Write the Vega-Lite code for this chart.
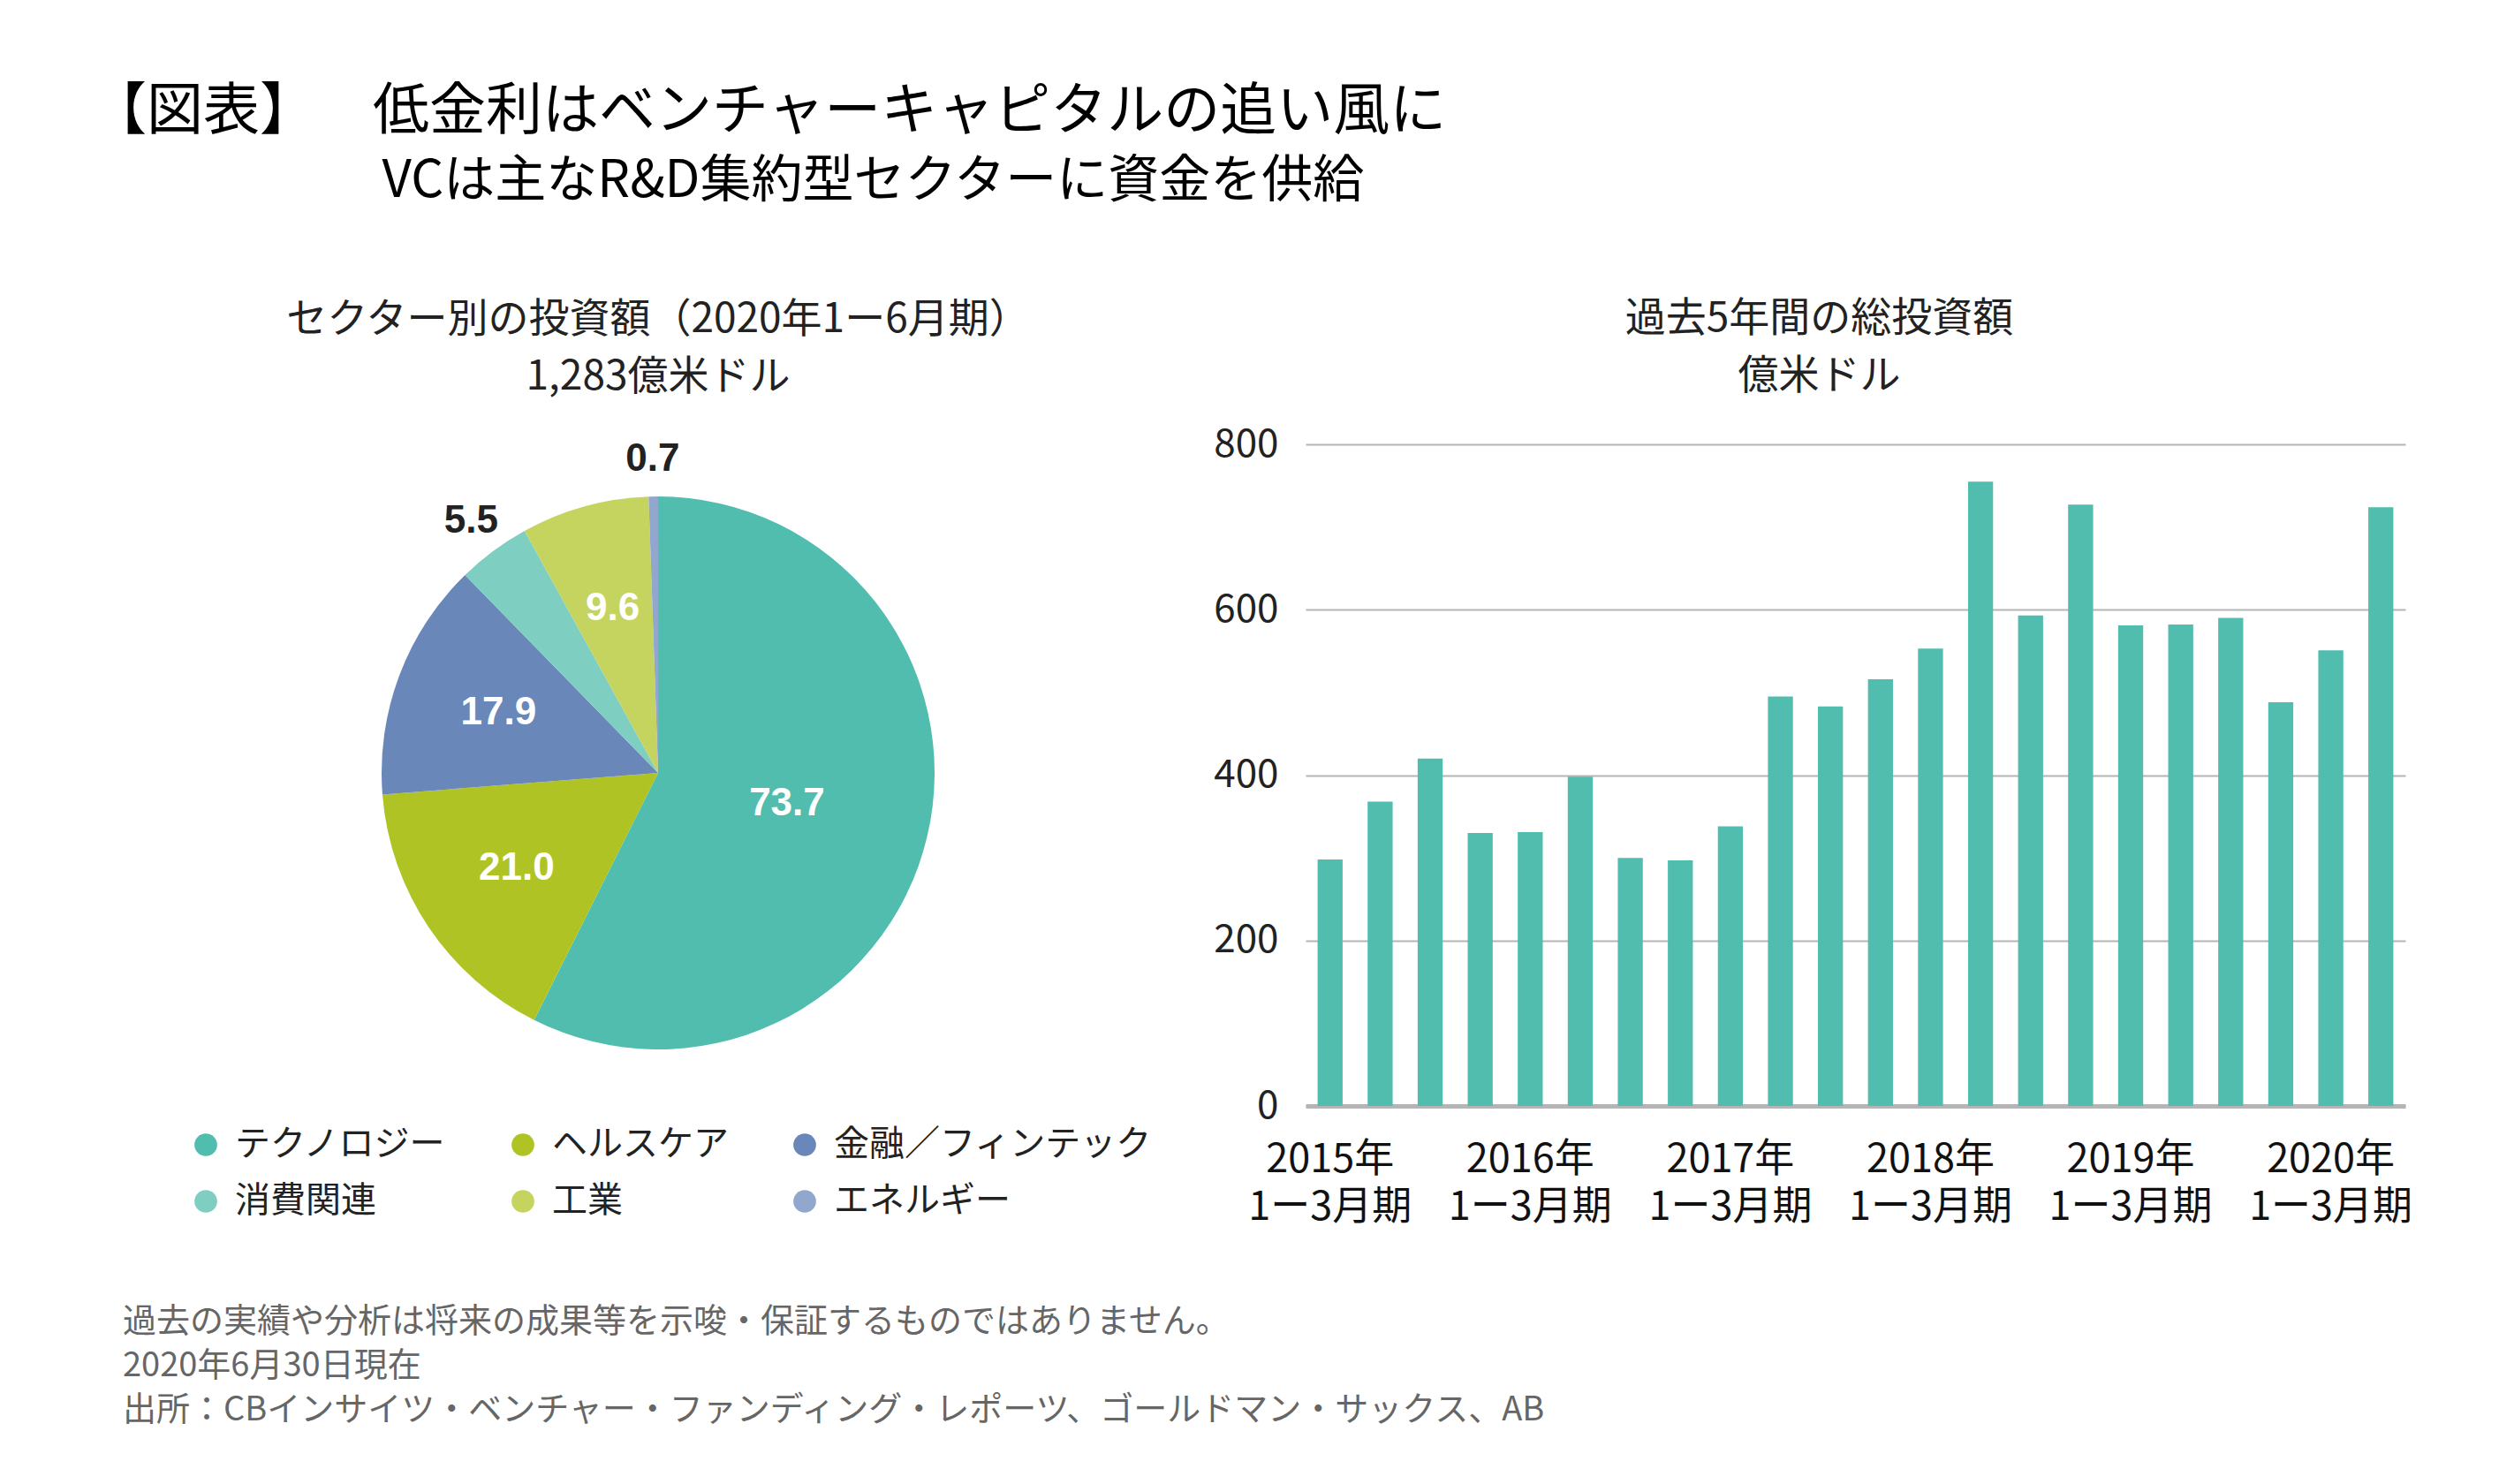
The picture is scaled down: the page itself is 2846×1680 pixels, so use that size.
{
  "$schema": "https://vega.github.io/schema/vega-lite/v6.json",
  "background": "white",
  "padding": {"left": 102, "top": 95, "right": 20, "bottom": 20},
  "config": {
    "view": {"stroke": null},
    "font": "Noto Sans CJK JP",
    "title": {"font": "Noto Sans CJK JP", "fontWeight": "normal", "subtitleFont": "Noto Sans CJK JP"}
  },
  "title": {
    "text": "【図表】\u3000\u2002低金利はベンチャーキャピタルの追い風に",
    "subtitle": "\u200b\u3000\u3000\u3000\u3000\u3000\u2002\u2009VCは主なR&D集約型セクターに資金を供給",
    "anchor": "start",
    "fontSize": 64,
    "subtitleFontSize": 58,
    "subtitlePadding": 18,
    "color": "#000000",
    "subtitleColor": "#000000",
    "dx": -37,
    "offset": 103
  },
  "datasets": {
    "sectors": [
      {"sector": "テクノロジー", "value": 73.7, "rank": 1},
      {"sector": "ヘルスケア", "value": 21.0, "rank": 2},
      {"sector": "金融／フィンテック", "value": 17.9, "rank": 3},
      {"sector": "消費関連", "value": 5.5, "rank": 4},
      {"sector": "工業", "value": 9.6, "rank": 5},
      {"sector": "エネルギー", "value": 0.7, "rank": 6}
    ],
    "vc": [
      {"q": "2015Q1", "v": 298}, {"q": "2015Q2", "v": 368}, {"q": "2015Q3", "v": 420}, {"q": "2015Q4", "v": 330},
      {"q": "2016Q1", "v": 331}, {"q": "2016Q2", "v": 398}, {"q": "2016Q3", "v": 300}, {"q": "2016Q4", "v": 297},
      {"q": "2017Q1", "v": 338}, {"q": "2017Q2", "v": 495}, {"q": "2017Q3", "v": 483}, {"q": "2017Q4", "v": 516},
      {"q": "2018Q1", "v": 553}, {"q": "2018Q2", "v": 755}, {"q": "2018Q3", "v": 593}, {"q": "2018Q4", "v": 727},
      {"q": "2019Q1", "v": 581}, {"q": "2019Q2", "v": 582}, {"q": "2019Q3", "v": 590}, {"q": "2019Q4", "v": 488},
      {"q": "2020Q1", "v": 551}, {"q": "2020Q2", "v": 724}
    ]
  },
  "vconcat": [
    {
      "title": {
        "text": ["過去の実績や分析は将来の成果等を示唆・保証するものではありません。", "2020年6月30日現在", "出所：CBインサイツ・ベンチャー・ファンディング・レポーツ、ゴールドマン・サックス、AB"],
        "orient": "bottom",
        "anchor": "start",
        "fontSize": 38,
        "lineHeight": 50,
        "color": "#666666",
        "dx": -74,
        "offset": 89
      },
      "spacing": 69,
      "resolve": {"legend": {"color": "independent"}, "scale": {"color": "independent"}},
      "hconcat": [
        {
          "width": 1064,
          "height": 744,
          "title": {
            "text": ["セクター別の投資額（2020年1ー6月期）", "1,283億米ドル"],
            "fontSize": 46,
            "lineHeight": 65,
            "color": "#222222",
            "offset": 47
          },
          "data": {"name": "sectors"},
          "encoding": {
            "theta": {"field": "value", "type": "quantitative", "stack": true},
            "order": {"field": "rank", "type": "quantitative"},
            "detail": {"field": "sector", "type": "nominal"}
          },
          "layer": [
            {
              "mark": {"type": "arc", "outerRadius": 313},
              "encoding": {
                "color": {
                  "field": "sector",
                  "type": "nominal",
                  "scale": {
                    "domain": ["テクノロジー", "ヘルスケア", "金融／フィンテック", "消費関連", "工業", "エネルギー"],
                    "range": ["#50BDAE", "#AFC424", "#6A87B9", "#7ECEC1", "#C5D35F", "#91A7CD"]
                  },
                  "legend": {
                    "orient": "bottom",
                    "title": null,
                    "columns": 3,
                    "symbolType": "circle",
                    "symbolSize": 660,
                    "symbolStrokeWidth": 0,
                    "labelFontSize": 40,
                    "labelColor": "#222222",
                    "labelOffset": 13,
                    "columnPadding": 66,
                    "rowPadding": 24,
                    "offset": 29,
                    "labelLimit": 600
                  }
                }
              }
            },
            {
              "mark": {
                "type": "text",
                "fontSize": 44,
                "fontWeight": "bold",
                "font": "Liberation Sans",
                "radius": {"expr": "datum.value < 9 ? 355 : (datum.value > 50 ? 150 : 193)"}
              },
              "encoding": {
                "text": {"field": "value", "type": "quantitative", "format": ".1f"},
                "color": {"condition": {"test": "datum.value < 9", "value": "#222222"}, "value": "#ffffff"}
              }
            }
          ]
        },
        {
          "width": 1245,
          "height": 749,
          "title": {
            "text": ["過去5年間の総投資額", "億米ドル"],
            "fontSize": 46,
            "lineHeight": 65,
            "color": "#222222",
            "offset": 31,
            "dx": -41
          },
          "data": {"name": "vc"},
          "mark": {"type": "bar", "color": "#50BDAE"},
          "encoding": {
            "x": {
              "field": "q",
              "type": "ordinal",
              "sort": null,
              "scale": {"paddingInner": 0.5, "paddingOuter": 0.24},
              "axis": {
                "title": null,
                "labelAngle": 0,
                "labelFontSize": 45,
                "labelLineHeight": 54,
                "labelColor": "#111111",
                "labelPadding": 38,
                "labelOverlap": false,
                "labelBound": false,
                "labelLimit": 500,
                "ticks": false,
                "domain": true,
                "domainColor": "#b5b5b5",
                "domainWidth": 5,
                "labelExpr": "slice(datum.value, 4) == 'Q1' ? [slice(datum.value, 0, 4) + '年', '1ー3月期'] : ''"
              }
            },
            "y": {
              "field": "v",
              "type": "quantitative",
              "scale": {"domain": [0, 800]},
              "axis": {
                "title": null,
                "values": [0, 200, 400, 600, 800],
                "grid": true,
                "gridColor": "#b5b5b5",
                "gridWidth": 2,
                "domain": false,
                "ticks": false,
                "labelFontSize": 44,
                "labelColor": "#222222",
                "labelPadding": 31
              }
            }
          }
        }
      ]
    }
  ]
}
